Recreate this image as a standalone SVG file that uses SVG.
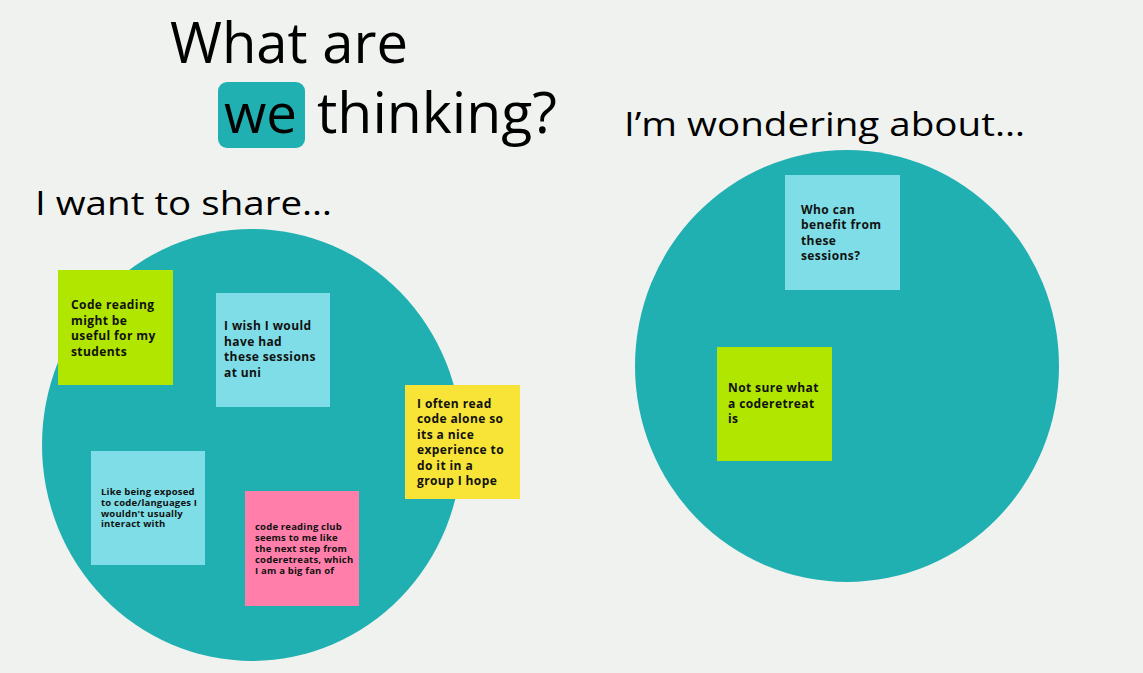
<svg xmlns="http://www.w3.org/2000/svg" width="1143" height="673" viewBox="0 0 1143 673">
<style>
.title{font-family:"Open Sans","Noto Sans",sans-serif;fill:#000;}
.note{font-family:"Open Sans","Noto Sans",sans-serif;font-weight:bold;font-size:12px;letter-spacing:0.4px;fill:#111;}
.small{font-size:9.5px;letter-spacing:0.2px;}
.teal{fill:#20b0b2;}
.cyan{fill:#7edde6;}
.lime{fill:#b0e600;}
.yellow{fill:#f7e436;}
.pink{fill:#ff7eaa;}
</style>
<rect width="1143" height="673" fill="#f0f2ef"/>
<g id="title">
<text class="title" x="170" y="63" font-size="57" textLength="238" lengthAdjust="spacingAndGlyphs">What are</text>
<rect class="teal" x="218" y="82" width="87" height="66" rx="9"/>
<text class="title" x="224" y="133" font-size="54" textLength="73" lengthAdjust="spacingAndGlyphs">we</text>
<text class="title" x="317" y="133" font-size="57" textLength="240" lengthAdjust="spacingAndGlyphs">thinking?</text>
</g>
<g id="share-heading"><text class="title" x="35" y="215" font-size="32" textLength="297" lengthAdjust="spacingAndGlyphs">I want to share…</text></g>
<g id="wonder-heading"><text class="title" x="624" y="136" font-size="32" textLength="401" lengthAdjust="spacingAndGlyphs">I’m wondering about…</text></g>
<g id="share-circle"><ellipse class="teal" cx="252" cy="445" rx="210" ry="216"/></g>
<g id="wonder-circle"><ellipse class="teal" cx="847" cy="366" rx="212" ry="216"/></g>
<g id="connectors"></g>
<g id="note-code-reading">
<rect class="lime" x="58" y="270" width="115" height="115"/>
<text class="note" x="71" y="309">Code reading<tspan x="71" dy="15.5">might be</tspan><tspan x="71" dy="15.5">useful for my</tspan><tspan x="71" dy="15.5">students</tspan></text>
</g>
<g id="note-wish">
<rect class="cyan" x="216" y="293" width="114" height="114"/>
<text class="note" x="224" y="330">I wish I would<tspan x="224" dy="15.5">have had</tspan><tspan x="224" dy="15.5">these sessions</tspan><tspan x="224" dy="15.5">at uni</tspan></text>
</g>
<g id="note-alone">
<rect class="yellow" x="405" y="385" width="115" height="114"/>
<text class="note" x="417" y="408">I often read<tspan x="417" dy="15.4">code alone so</tspan><tspan x="417" dy="15.4">its a nice</tspan><tspan x="417" dy="15.4">experience to</tspan><tspan x="417" dy="15.4">do it in a</tspan><tspan x="417" dy="15.4">group I hope</tspan></text>
</g>
<g id="note-exposed">
<rect class="cyan" x="91" y="451" width="114" height="114"/>
<text class="note small" x="101" y="495">Like being exposed<tspan x="101" dy="10.8">to code/languages I</tspan><tspan x="101" dy="10.8">wouldn't usually</tspan><tspan x="101" dy="10.8">interact with</tspan></text>
</g>
<g id="note-club">
<rect class="pink" x="245" y="491" width="114" height="115"/>
<text class="note small" x="255" y="530">code reading club<tspan x="255" dy="11">seems to me like</tspan><tspan x="255" dy="11">the next step from</tspan><tspan x="255" dy="11">coderetreats, which</tspan><tspan x="255" dy="11">I am a big fan of</tspan></text>
</g>
<g id="note-benefit">
<rect class="cyan" x="785" y="175" width="115" height="115"/>
<text class="note" x="801" y="214">Who can<tspan x="801" dy="15.3">benefit from</tspan><tspan x="801" dy="15.3">these</tspan><tspan x="801" dy="15.3">sessions?</tspan></text>
</g>
<g id="note-coderetreat">
<rect class="lime" x="717" y="347" width="115" height="114"/>
<text class="note" x="728" y="392">Not sure what<tspan x="728" dy="15.5">a coderetreat</tspan><tspan x="728" dy="15.5">is</tspan></text>
</g>
</svg>
